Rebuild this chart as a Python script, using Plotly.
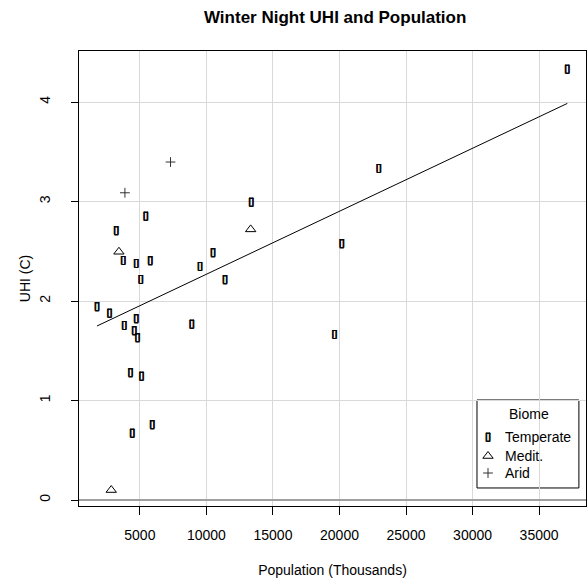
import numpy as np
import plotly.graph_objects as go

# Winter night urban heat island (UHI, deg C) versus city population (thousands)
temperate_pop = [1775, 2728, 3223, 3748, 3823, 4303, 4423, 4573, 4723, 4723, 4828,
                 5075, 5128, 5450, 5773, 5923, 8900, 9523, 10498, 11398, 13378,
                 19625, 20173, 22948, 37123]
temperate_uhi = [1.945, 1.88, 2.71, 2.41, 1.756, 1.28, 0.676, 1.705, 2.38, 1.822, 1.631,
                 2.218, 1.246, 2.857, 2.405, 0.757, 1.769, 2.349, 2.489, 2.214, 2.995,
                 1.665, 2.576, 3.334, 4.332]

medit_pop = [2848, 3425, 13325]
medit_uhi = [0.10, 2.495, 2.72]

arid_pop = [3875, 7303]
arid_uhi = [3.088, 3.397]

x_ticks = [5000, 10000, 15000, 20000, 25000, 30000, 35000]
y_ticks = [0, 1, 2, 3, 4]
biome_names = ["Temperate", "Medit.", "Arid"]

FONT = "Liberation Sans, Arial, sans-serif"
# narrow open rectangle glyph, strokes thickened with a small text shadow
RECT_FONT = dict(family="DejaVu Sans", size=11, color="black", weight="bold",
                 shadow="0.5px 0 0 #000, -0.5px 0 0 #000, 0 0.4px 0 #000, 0 -0.4px 0 #000")

# least-squares fit over all cities
all_pop = np.array(temperate_pop + medit_pop + arid_pop, dtype=float)
all_uhi = np.array(temperate_uhi + medit_uhi + arid_uhi, dtype=float)
slope, intercept = np.polyfit(all_pop, all_uhi, 1)
fit_x = np.array([all_pop.min(), all_pop.max()])
fit_y = intercept + slope * fit_x

fig = go.Figure()

fig.add_trace(go.Scatter(x=fit_x, y=fit_y, mode="lines",
                         line=dict(color="black", width=1), showlegend=False,
                         hoverinfo="skip"))

fig.add_trace(go.Scatter(x=temperate_pop, y=temperate_uhi, mode="text",
                         text=["\u25af"] * len(temperate_pop), textfont=RECT_FONT,
                         name=biome_names[0], showlegend=False))

fig.add_trace(go.Scatter(x=medit_pop, y=medit_uhi, mode="markers",
                         marker=dict(symbol="triangle-up-open", size=9,
                                     color="black", line=dict(width=1, color="black")),
                         name=biome_names[1], showlegend=False))

fig.add_trace(go.Scatter(x=arid_pop, y=arid_uhi, mode="markers",
                         marker=dict(symbol="cross-thin-open", size=7,
                                     color="#333333", line=dict(width=1, color="#333333")),
                         name=biome_names[2], showlegend=False))

# legend drawn in a 0..1 overlay frame
leg_sym_x = 0.8067
leg_rows_y = [0.1516, 0.1099, 0.0725]
leg_text_x = 0.836

fig.add_trace(go.Scatter(x=[leg_sym_x], y=[leg_rows_y[0]], mode="text", text=["\u25af"],
                         textfont=RECT_FONT,
                         xaxis="x2", yaxis="y2", showlegend=False, hoverinfo="skip"))
fig.add_trace(go.Scatter(x=[leg_sym_x], y=[leg_rows_y[1]], mode="markers",
                         marker=dict(symbol="triangle-up-open", size=9, color="black",
                                     line=dict(width=1, color="black")),
                         xaxis="x2", yaxis="y2", showlegend=False, hoverinfo="skip"))
fig.add_trace(go.Scatter(x=[leg_sym_x], y=[leg_rows_y[2]], mode="markers",
                         marker=dict(symbol="cross-thin-open", size=7, color="#333333",
                                     line=dict(width=1, color="#333333")),
                         xaxis="x2", yaxis="y2", showlegend=False, hoverinfo="skip"))

annotations = [dict(x=0.8876, y=0.2022, xref="paper", yref="paper", text="Biome",
                    showarrow=False, xanchor="center", yanchor="middle",
                    font=dict(family=FONT, size=14, color="black"))]
for name, yy in zip(biome_names, leg_rows_y):
    annotations.append(dict(x=leg_text_x, y=yy, xref="paper", yref="paper", text=name,
                            showarrow=False, xanchor="left", yanchor="middle",
                            font=dict(family=FONT, size=14, color="black")))

fig.update_layout(
    width=587, height=583,
    margin=dict(l=79, r=1, t=51, b=77),
    paper_bgcolor="white", plot_bgcolor="white",
    font=dict(family=FONT, size=14, color="black"),
    title=dict(text="<b>Winter Night UHI and Population</b>", x=0.571, y=0.971,
               xanchor="center", yanchor="middle",
               font=dict(family=FONT, size=17, color="black")),
    xaxis=dict(range=[425, 38525], tickvals=x_ticks, ticktext=[str(v) for v in x_ticks],
               ticks="outside", ticklen=8,
               tickcolor="black", showline=True, linecolor="black", linewidth=1,
               mirror=True, showgrid=True, gridcolor="#d9d9d9", gridwidth=1,
               zeroline=False, ticklabelstandoff=8, tickfont=dict(size=14),
               title=dict(text="Population (Thousands)", standoff=23,
                          font=dict(family=FONT, size=14))),
    yaxis=dict(range=[-0.0603, 4.513], tickvals=y_ticks, ticktext=[str(v) for v in y_ticks],
               ticks="outside", ticklen=7,
               tickcolor="black", tickangle=-90, showline=True, linecolor="black",
               linewidth=1, mirror=True, showgrid=True, gridcolor="#d9d9d9", gridwidth=1,
               zeroline=True, zerolinecolor="#a0a0a0", zerolinewidth=2,
               ticklabelstandoff=15, tickfont=dict(size=14),
               title=dict(text="UHI (C)", standoff=3, font=dict(family=FONT, size=14))),
    xaxis2=dict(overlaying="x", range=[0, 1], visible=False),
    yaxis2=dict(overlaying="y", range=[0, 1], visible=False),
    shapes=[dict(type="rect", xref="paper", yref="paper", x0=0.785, x1=0.986,
                 y0=0.0396, y1=0.233, line=dict(color="black", width=1),
                 fillcolor="white", layer="between")],
    annotations=annotations,
)

fig.write_html("out.html")
